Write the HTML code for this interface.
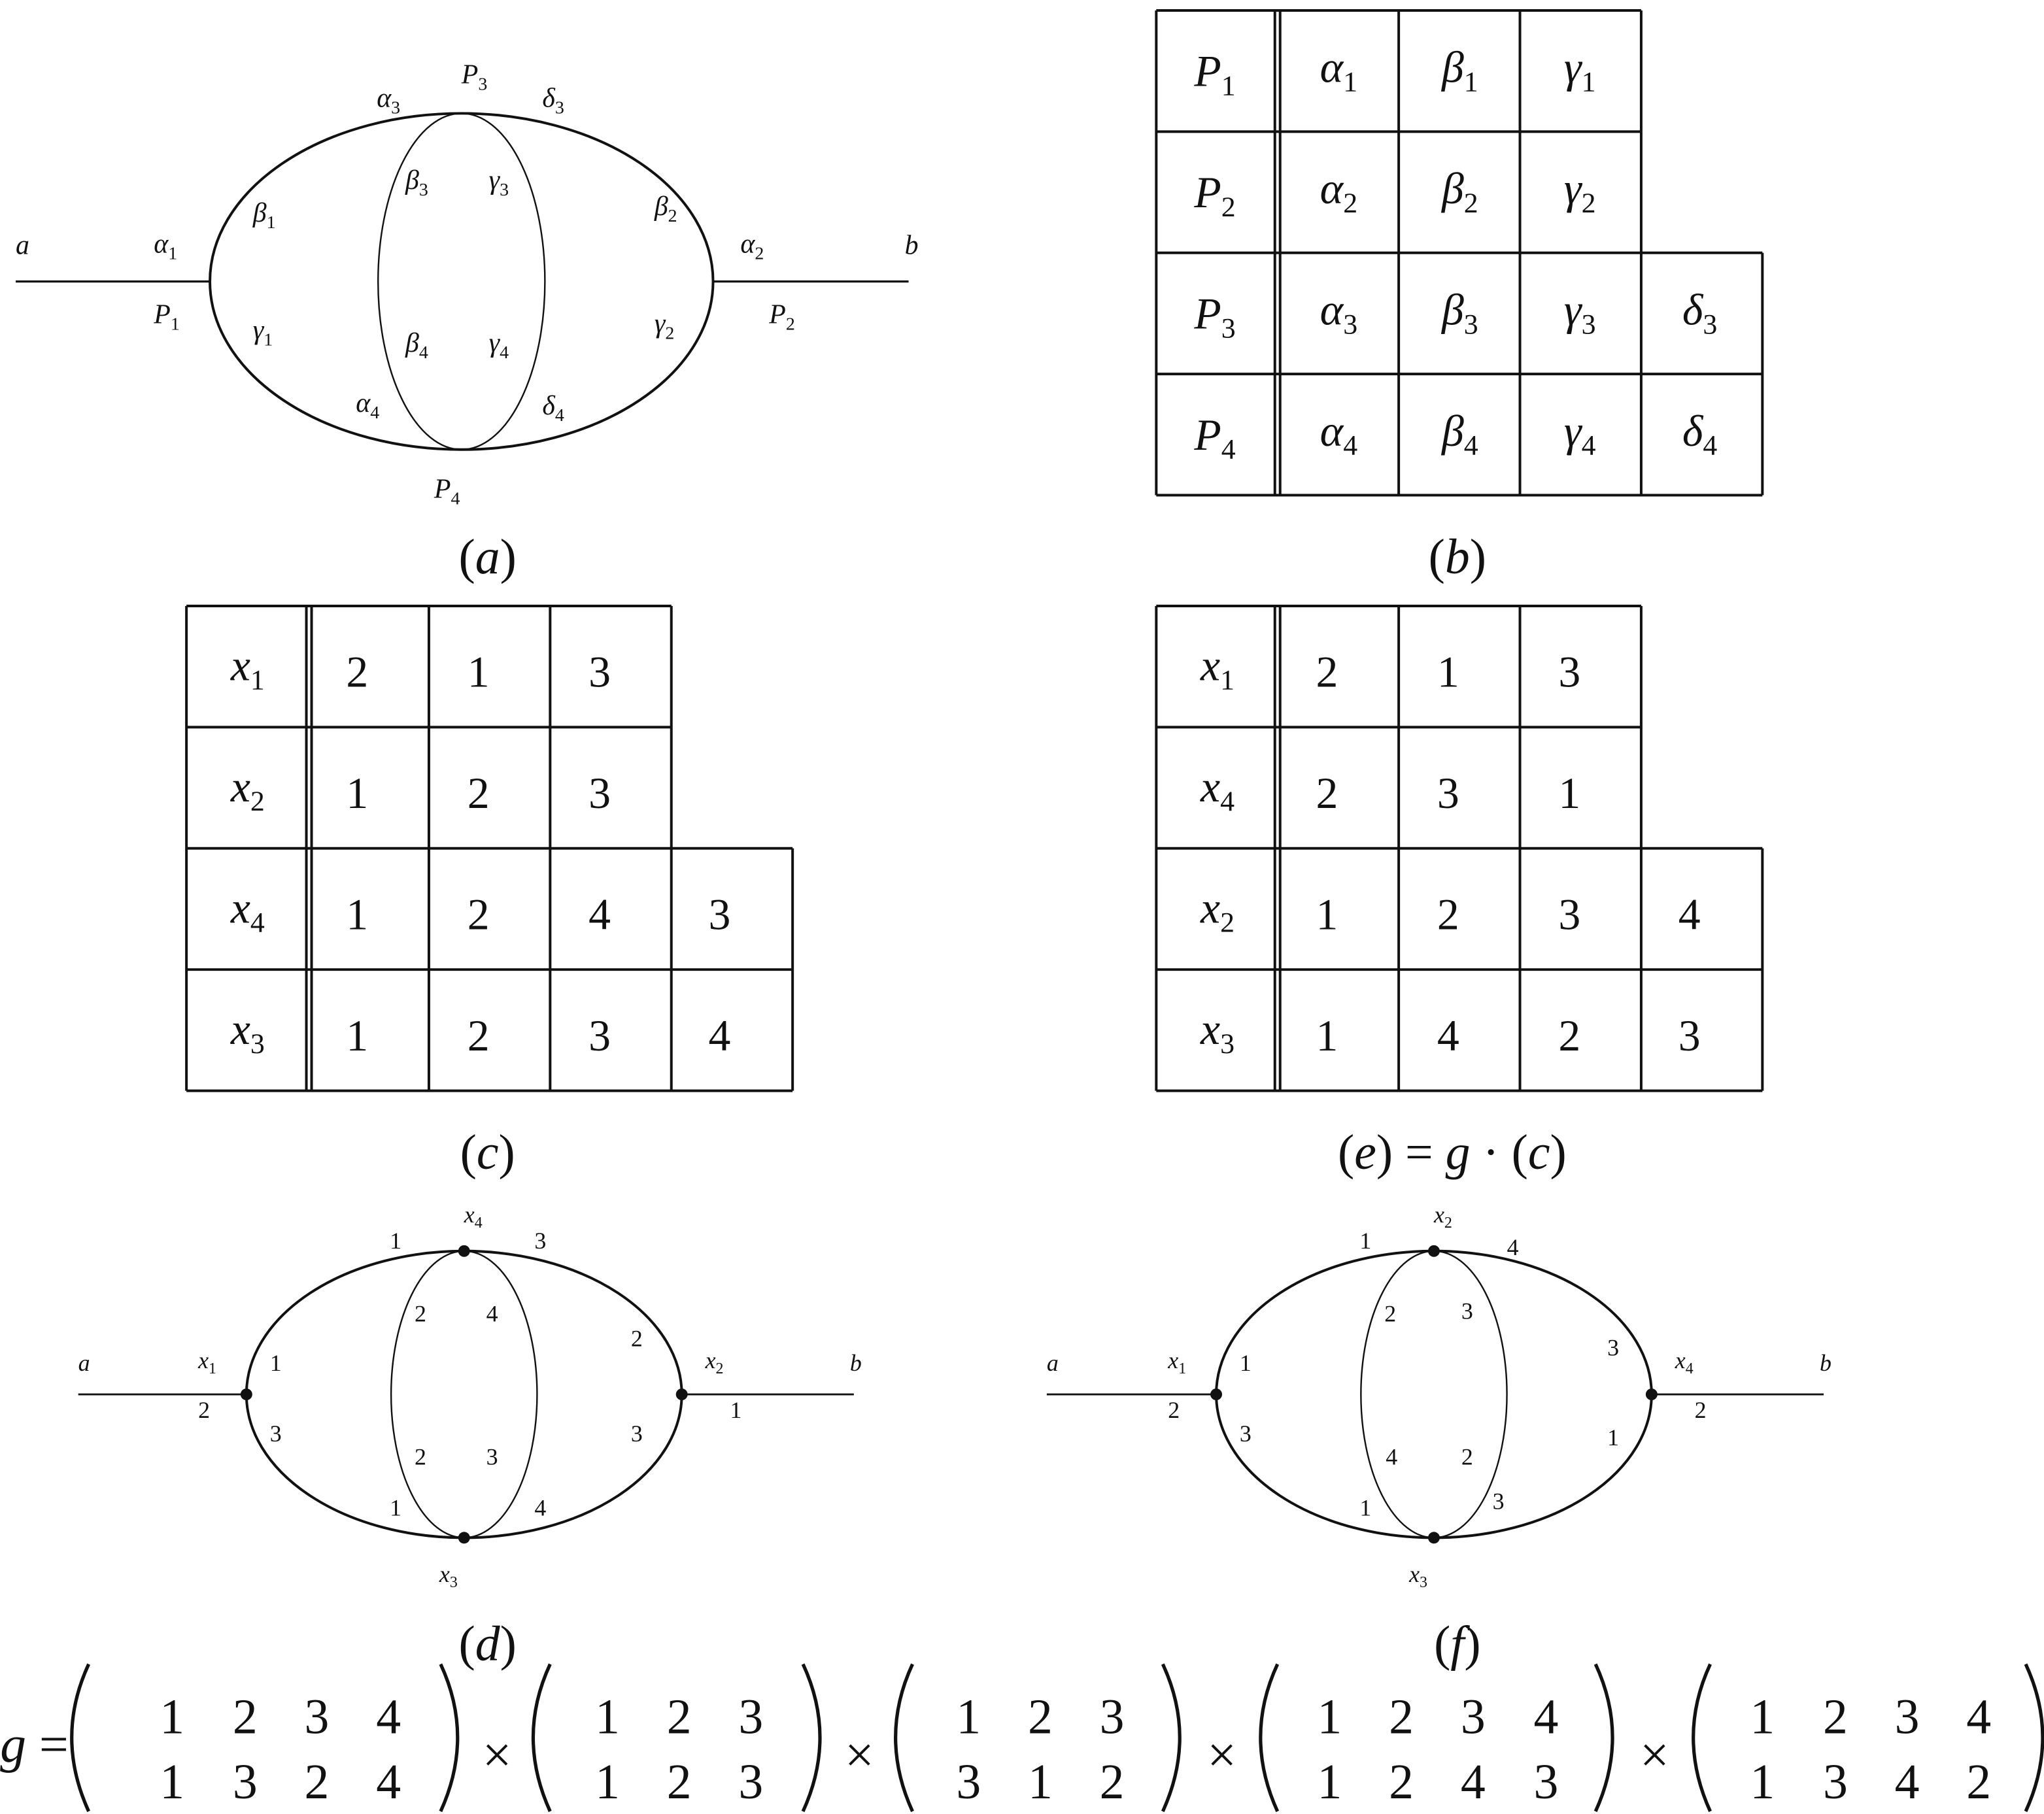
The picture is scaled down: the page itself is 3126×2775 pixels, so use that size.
<!DOCTYPE html>
<html><head><meta charset="utf-8"><style>
html,body{margin:0;padding:0;background:#fff}
svg{display:block}
text{font-family:"Liberation Serif",serif;fill:#111}
.i{font-style:italic}
</style></head><body>
<svg width="3126" height="2775" viewBox="0 0 1568 1392" xmlns="http://www.w3.org/2000/svg">
<g fill="none" stroke="#111">
<ellipse cx="354" cy="216" rx="193" ry="129" stroke-width="2"/>
<ellipse cx="354" cy="216" rx="64" ry="129" stroke-width="1.2"/>
<line x1="12" y1="216" x2="161" y2="216" stroke-width="1.6"/>
<line x1="547" y1="216" x2="697" y2="216" stroke-width="1.6"/>
<ellipse cx="356" cy="1070" rx="167" ry="110" stroke-width="2"/>
<ellipse cx="356" cy="1070" rx="56" ry="110" stroke-width="1.2"/>
<line x1="60" y1="1070" x2="189" y2="1070" stroke-width="1.4"/>
<line x1="523" y1="1070" x2="655" y2="1070" stroke-width="1.4"/>
<ellipse cx="1100" cy="1070" rx="167" ry="110" stroke-width="2"/>
<ellipse cx="1100" cy="1070" rx="56" ry="110" stroke-width="1.2"/>
<line x1="803" y1="1070" x2="933" y2="1070" stroke-width="1.4"/>
<line x1="1267" y1="1070" x2="1399" y2="1070" stroke-width="1.4"/>
</g>
<g fill="#111">
<circle cx="189" cy="1070" r="4.5"/><circle cx="523" cy="1070" r="4.5"/><circle cx="356" cy="960" r="4.5"/><circle cx="356" cy="1180" r="4.5"/>
<circle cx="933" cy="1070" r="4.5"/><circle cx="1267" cy="1070" r="4.5"/><circle cx="1100" cy="960" r="4.5"/><circle cx="1100" cy="1180" r="4.5"/>
</g>
<g stroke="#111" stroke-width="2" fill="none">
<path d="M887 8H1259M887 101H1259M887 194H1352M887 287H1352M887 380H1352"/>
<path d="M887 8V380M978 8V380M982 8V380M1073 8V380M1166 8V380M1259 8V380M1352 194V380"/>
<path d="M143 465H515M143 558H515M143 651H608M143 744H608M143 837H608"/>
<path d="M143 465V837M235 465V837M239 465V837M329 465V837M422 465V837M515 465V837M608 651V837"/>
<path d="M887 465H1259M887 558H1259M887 651H1352M887 744H1352M887 837H1352"/>
<path d="M887 465V837M978 465V837M982 465V837M1073 465V837M1166 465V837M1259 465V837M1352 651V837"/>
</g>
<g font-size="21">
<text x="12" y="195" class="i">a</text>
<text x="694" y="195" class="i">b</text>
<text x="118" y="194" class="i">α<tspan font-size="14" dy="5" font-style="normal">1</tspan></text>
<text x="118" y="248" class="i">P<tspan font-size="14" dy="5" font-style="normal">1</tspan></text>
<text x="568" y="194" class="i">α<tspan font-size="14" dy="5" font-style="normal">2</tspan></text>
<text x="590" y="248" class="i">P<tspan font-size="14" dy="5" font-style="normal">2</tspan></text>
<text x="354" y="64" class="i">P<tspan font-size="14" dy="5" font-style="normal">3</tspan></text>
<text x="333" y="382" class="i">P<tspan font-size="14" dy="5" font-style="normal">4</tspan></text>
<text x="289" y="82" class="i">α<tspan font-size="14" dy="5" font-style="normal">3</tspan></text>
<text x="416" y="82" class="i">δ<tspan font-size="14" dy="5" font-style="normal">3</tspan></text>
<text x="273" y="316" class="i">α<tspan font-size="14" dy="5" font-style="normal">4</tspan></text>
<text x="416" y="318" class="i">δ<tspan font-size="14" dy="5" font-style="normal">4</tspan></text>
<text x="194" y="170" class="i">β<tspan font-size="14" dy="5" font-style="normal">1</tspan></text>
<text x="194" y="260" class="i">γ<tspan font-size="14" dy="5" font-style="normal">1</tspan></text>
<text x="311" y="145" class="i">β<tspan font-size="14" dy="5" font-style="normal">3</tspan></text>
<text x="375" y="145" class="i">γ<tspan font-size="14" dy="5" font-style="normal">3</tspan></text>
<text x="311" y="270" class="i">β<tspan font-size="14" dy="5" font-style="normal">4</tspan></text>
<text x="375" y="270" class="i">γ<tspan font-size="14" dy="5" font-style="normal">4</tspan></text>
<text x="502" y="165" class="i">β<tspan font-size="14" dy="5" font-style="normal">2</tspan></text>
<text x="502" y="255" class="i">γ<tspan font-size="14" dy="5" font-style="normal">2</tspan></text>
</g>
<g font-size="34" class="i" text-anchor="middle">
<text x="932" y="66">P<tspan font-size="22" dy="7" font-style="normal">1</tspan></text>
<text x="932" y="159">P<tspan font-size="22" dy="7" font-style="normal">2</tspan></text>
<text x="932" y="252">P<tspan font-size="22" dy="7" font-style="normal">3</tspan></text>
<text x="932" y="345">P<tspan font-size="22" dy="7" font-style="normal">4</tspan></text>
<text x="1027" y="63">α<tspan font-size="22" dy="7" font-style="normal">1</tspan></text>
<text x="1027" y="156">α<tspan font-size="22" dy="7" font-style="normal">2</tspan></text>
<text x="1027" y="249">α<tspan font-size="22" dy="7" font-style="normal">3</tspan></text>
<text x="1027" y="342">α<tspan font-size="22" dy="7" font-style="normal">4</tspan></text>
<text x="1120" y="63">β<tspan font-size="22" dy="7" font-style="normal">1</tspan></text>
<text x="1120" y="156">β<tspan font-size="22" dy="7" font-style="normal">2</tspan></text>
<text x="1120" y="249">β<tspan font-size="22" dy="7" font-style="normal">3</tspan></text>
<text x="1120" y="342">β<tspan font-size="22" dy="7" font-style="normal">4</tspan></text>
<text x="1212" y="63">γ<tspan font-size="22" dy="7" font-style="normal">1</tspan></text>
<text x="1212" y="156">γ<tspan font-size="22" dy="7" font-style="normal">2</tspan></text>
<text x="1212" y="249">γ<tspan font-size="22" dy="7" font-style="normal">3</tspan></text>
<text x="1212" y="342">γ<tspan font-size="22" dy="7" font-style="normal">4</tspan></text>
<text x="1304" y="249">δ<tspan font-size="22" dy="7" font-style="normal">3</tspan></text>
<text x="1304" y="342">δ<tspan font-size="22" dy="7" font-style="normal">4</tspan></text>
</g>
<g font-size="34" text-anchor="middle">
<text x="190" y="522" class="i">x<tspan font-size="22" dy="7" font-style="normal">1</tspan></text>
<text x="190" y="615" class="i">x<tspan font-size="22" dy="7" font-style="normal">2</tspan></text>
<text x="190" y="708" class="i">x<tspan font-size="22" dy="7" font-style="normal">4</tspan></text>
<text x="190" y="801" class="i">x<tspan font-size="22" dy="7" font-style="normal">3</tspan></text>
<text x="274" y="527">2</text><text x="367" y="527">1</text><text x="460" y="527">3</text>
<text x="274" y="620">1</text><text x="367" y="620">2</text><text x="460" y="620">3</text>
<text x="274" y="713">1</text><text x="367" y="713">2</text><text x="460" y="713">4</text><text x="552" y="713">3</text>
<text x="274" y="806">1</text><text x="367" y="806">2</text><text x="460" y="806">3</text><text x="552" y="806">4</text>
<text x="934" y="522" class="i">x<tspan font-size="22" dy="7" font-style="normal">1</tspan></text>
<text x="934" y="615" class="i">x<tspan font-size="22" dy="7" font-style="normal">4</tspan></text>
<text x="934" y="708" class="i">x<tspan font-size="22" dy="7" font-style="normal">2</tspan></text>
<text x="934" y="801" class="i">x<tspan font-size="22" dy="7" font-style="normal">3</tspan></text>
<text x="1018" y="527">2</text><text x="1111" y="527">1</text><text x="1204" y="527">3</text>
<text x="1018" y="620">2</text><text x="1111" y="620">3</text><text x="1204" y="620">1</text>
<text x="1018" y="713">1</text><text x="1111" y="713">2</text><text x="1204" y="713">3</text><text x="1296" y="713">4</text>
<text x="1018" y="806">1</text><text x="1111" y="806">4</text><text x="1204" y="806">2</text><text x="1296" y="806">3</text>
</g>
<g font-size="38" text-anchor="middle">
<text x="374" y="440">(<tspan class="i">a</tspan>)</text>
<text x="1118" y="440">(<tspan class="i">b</tspan>)</text>
<text x="374" y="897">(<tspan class="i">c</tspan>)</text>
<text x="1114" y="897">(<tspan class="i">e</tspan>) = <tspan class="i">g</tspan> · (<tspan class="i">c</tspan>)</text>
<text x="374" y="1274">(<tspan class="i">d</tspan>)</text>
<text x="1118" y="1274">(<tspan class="i">f</tspan>)</text>
</g>
<g font-size="18">
<text x="60" y="1052" class="i">a</text><text x="652" y="1052" class="i">b</text>
<text x="152" y="1050" class="i">x<tspan font-size="12" dy="4" font-style="normal">1</tspan></text>
<text x="541" y="1050" class="i">x<tspan font-size="12" dy="4" font-style="normal">2</tspan></text>
<text x="356" y="938" class="i">x<tspan font-size="12" dy="4" font-style="normal">4</tspan></text>
<text x="337" y="1214" class="i">x<tspan font-size="12" dy="4" font-style="normal">3</tspan></text>
<text x="152" y="1088">2</text><text x="560" y="1088">1</text>
<text x="207" y="1052">1</text><text x="207" y="1106">3</text>
<text x="299" y="958">1</text><text x="410" y="958">3</text>
<text x="318" y="1014">2</text><text x="373" y="1014">4</text>
<text x="318" y="1124">2</text><text x="373" y="1124">3</text>
<text x="299" y="1163">1</text><text x="410" y="1163">4</text>
<text x="484" y="1033">2</text><text x="484" y="1106">3</text>
</g>
<g font-size="18">
<text x="803" y="1052" class="i">a</text><text x="1396" y="1052" class="i">b</text>
<text x="896" y="1050" class="i">x<tspan font-size="12" dy="4" font-style="normal">1</tspan></text>
<text x="1285" y="1050" class="i">x<tspan font-size="12" dy="4" font-style="normal">4</tspan></text>
<text x="1100" y="938" class="i">x<tspan font-size="12" dy="4" font-style="normal">2</tspan></text>
<text x="1081" y="1214" class="i">x<tspan font-size="12" dy="4" font-style="normal">3</tspan></text>
<text x="896" y="1088">2</text><text x="1300" y="1088">2</text>
<text x="951" y="1052">1</text><text x="951" y="1106">3</text>
<text x="1043" y="958">1</text><text x="1156" y="963">4</text>
<text x="1062" y="1014">2</text><text x="1121" y="1012">3</text>
<text x="1063" y="1124">4</text><text x="1121" y="1124">2</text>
<text x="1043" y="1163">1</text><text x="1145" y="1158">3</text>
<text x="1233" y="1040">3</text><text x="1233" y="1109">1</text>
</g>
<g font-size="40">
<text x="0" y="1352" class="i">g</text>
<text x="30" y="1352">=</text>
<text x="370" y="1360">×</text><text x="648" y="1360">×</text><text x="926" y="1360">×</text><text x="1258" y="1360">×</text>
</g>
<g font-size="38" text-anchor="middle">
<text x="132" y="1330">1</text><text x="188" y="1330">2</text><text x="243" y="1330">3</text><text x="298" y="1330">4</text>
<text x="132" y="1380">1</text><text x="188" y="1380">3</text><text x="243" y="1380">2</text><text x="298" y="1380">4</text>
<text x="466" y="1330">1</text><text x="521" y="1330">2</text><text x="576" y="1330">3</text>
<text x="466" y="1380">1</text><text x="521" y="1380">2</text><text x="576" y="1380">3</text>
<text x="743" y="1330">1</text><text x="798" y="1330">2</text><text x="853" y="1330">3</text>
<text x="743" y="1380">3</text><text x="798" y="1380">1</text><text x="853" y="1380">2</text>
<text x="1020" y="1330">1</text><text x="1075" y="1330">2</text><text x="1130" y="1330">3</text><text x="1186" y="1330">4</text>
<text x="1020" y="1380">1</text><text x="1075" y="1380">2</text><text x="1130" y="1380">4</text><text x="1186" y="1380">3</text>
<text x="1352" y="1330">1</text><text x="1408" y="1330">2</text><text x="1463" y="1330">3</text><text x="1518" y="1330">4</text>
<text x="1352" y="1380">1</text><text x="1408" y="1380">3</text><text x="1463" y="1380">4</text><text x="1518" y="1380">2</text>
</g>
<g fill="none" stroke="#111" stroke-width="2.6">
<path d="M68 1277Q42 1333 68 1390"/><path d="M338 1277Q364 1333 338 1390"/>
<path d="M422 1277Q396 1333 422 1390"/><path d="M616 1277Q642 1333 616 1390"/>
<path d="M700 1277Q674 1333 700 1390"/><path d="M892 1277Q918 1333 892 1390"/>
<path d="M980 1277Q954 1333 980 1390"/><path d="M1224 1277Q1250 1333 1224 1390"/>
<path d="M1312 1277Q1286 1333 1312 1390"/><path d="M1554 1277Q1580 1333 1554 1390"/>
</g>
</svg>
</body></html>
